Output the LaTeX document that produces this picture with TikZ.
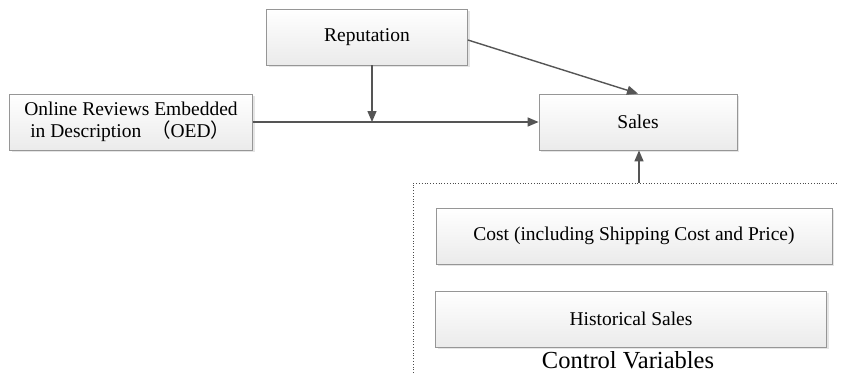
\documentclass[tikz,border=0pt]{standalone}
\usepackage{fontspec}
\setmainfont{Liberation Serif}
\newfontfamily\cjk{Noto Sans CJK SC}
\definecolor{boxline}{RGB}{150,150,150}
\definecolor{arrowgray}{RGB}{85,85,85}
\usetikzlibrary{calc, positioning, arrows.meta, shadows}

\begin{document}
\begin{tikzpicture}[
  x=1pt, y=-1pt,
  varbox/.style={draw=boxline, line width=0.8pt, top color=white, bottom color=black!8,
    drop shadow={shadow xshift=2pt, shadow yshift=-2pt, opacity=0.25, fill=black!40},
    minimum height=56pt, inner sep=4pt, font=\fontsize{19.5}{22}\selectfont, align=center},
  link/.style={draw=arrowgray, line width=1.4pt, -{Triangle[length=11pt, width=9pt]}},
]
  \useasboundingbox (0,0) rectangle (841,373);
  % main model
  \node[varbox, minimum width=201pt] (rep) at (367,37) {Reputation};
  \node[varbox, minimum width=243pt, align=left] (oed) at (131,122) {Online Reviews Embedded\\ \hspace{6pt}in Description \ {\cjk （}OED{\cjk ）}};
  \node[varbox, minimum width=198pt] (sales) at (638,122) {Sales};
  \coordinate (mod) at (372,122);
  \draw[link] (oed.east) -- (sales.west);
  \draw[link] (rep.south -| mod) -- (mod);
  \draw[link] ([yshift=-3pt]rep.east) -- (sales.north);
  % control variables
  \coordinate (ctrltop) at (639,183);
  \draw[dotted, line width=0.8pt, black!70] (413,373) |- (838,183);
  \node[varbox, minimum width=396pt] (cost) at (634,236) {Cost (including Shipping Cost and Price)};
  \node[varbox, minimum width=391pt] (hist) at (631,319) {Historical Sales};
  \node[font=\fontsize{24.5}{27}\selectfont] (ctrl) at (628,360) {Control Variables};
  \draw[link] (ctrltop) -- (sales.south -| ctrltop);
\end{tikzpicture}
\end{document}
